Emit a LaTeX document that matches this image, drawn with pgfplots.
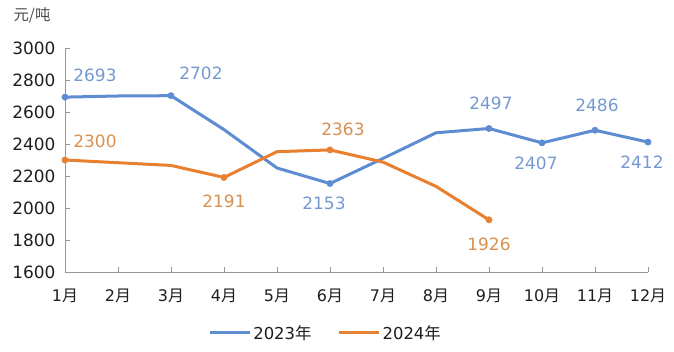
\documentclass[border=0pt]{standalone}
\usepackage{pgfplots}
\pgfplotsset{compat=1.18}
\usepackage{fontspec}
\setmainfont{DejaVu Sans}
\newfontfamily\cjk{Noto Sans CJK SC}
\definecolor{bl}{RGB}{94,140,210}
\definecolor{og}{RGB}{232,128,48}
\definecolor{bltxt}{RGB}{118,152,210}
\definecolor{ogtxt}{RGB}{218,144,78}
\definecolor{axc}{RGB}{150,150,150}
\definecolor{tickc}{RGB}{30,30,30}
\pgfplotstableread{
x y
1 2693
2 2700
3 2702
4 2490
5 2250
6 2153
7 2310
8 2470
9 2497
10 2407
11 2486
12 2412
}\dataA
\pgfplotstableread{
x y
1 2300
2 2283
3 2266
4 2191
5 2352
6 2363
7 2287
8 2135
9 1926
}\dataB
\pgfplotstableread{
x y
1 2693
3 2702
}\labAur
\pgfplotstableread{
x y
9 2497
11 2486
}\labAup
\pgfplotstableread{
x y
6 2153
10 2407
12 2412
}\labAdn
\pgfplotstableread{
x y
1 2300
}\labBur
\pgfplotstableread{
x y
6 2363
}\labBup
\pgfplotstableread{
x y
4 2191
9 1926
}\labBdn
\begin{document}
\begin{tikzpicture}
\useasboundingbox (-65bp,-80bp) rectangle (609bp,272bp);
\begin{axis}[
  name=ax,
  scale only axis,
  width=583bp, height=224bp,
  xmin=1, xmax=12, ymin=1600, ymax=3000,
  axis lines*=left,
  tick align=inside,
  axis line style={draw=axc, line width=0.8pt},
  tick style={draw=axc, line width=0.8pt},
  major tick length=5bp,
  xtick={1,...,12},
  xticklabels={1{\cjk 月},2{\cjk 月},3{\cjk 月},4{\cjk 月},5{\cjk 月},6{\cjk 月},7{\cjk 月},8{\cjk 月},9{\cjk 月},10{\cjk 月},11{\cjk 月},12{\cjk 月}},
  ytick={1600,1800,...,3000},
  /pgf/number format/assume math mode=true,
  /pgf/number format/1000 sep={},
  yticklabel style={font=\fontsize{17}{19}\selectfont, text=tickc, xshift=-6bp},
  xticklabel style={font=\fontsize{16}{18}\selectfont, text=tickc, yshift=-13bp},
  clip=false,
  legend columns=2,
  legend style={draw=none, at={(0.447,-0.272)}, anchor=center,
    font=\fontsize{16.5}{18}\selectfont, text=tickc,
    /tikz/every even column/.append style={column sep=24bp}},
  legend image code/.code={\draw[#1, line width=3bp] (0bp,0bp) -- (40bp,0bp);},
  nodes near coords,
  every node near coord/.append style={font=\fontsize{17}{19}\selectfont, /pgf/number format/1000 sep={}},
]
\addplot[bl, line width=3bp, no marks, nodes near coords=] table {\dataA};
\addlegendentry{2023{\cjk 年}}
\addplot[og, line width=3bp, no marks, nodes near coords=] table {\dataB};
\addlegendentry{2024{\cjk 年}}
\addplot[only marks, mark=*, mark size=3.2bp, color=bl, forget plot,
  every node near coord/.append style={text=bltxt, anchor=center, xshift=30bp, yshift=22bp}] table {\labAur};
\addplot[only marks, mark=*, mark size=3.2bp, color=bl, forget plot,
  every node near coord/.append style={text=bltxt, anchor=center, xshift=2bp, yshift=25bp}] table {\labAup};
\addplot[only marks, mark=*, mark size=3.2bp, color=bl, forget plot,
  every node near coord/.append style={text=bltxt, anchor=center, xshift=-6bp, yshift=-20bp}] table {\labAdn};
\addplot[only marks, mark=*, mark size=3.2bp, color=og, forget plot,
  every node near coord/.append style={text=ogtxt, anchor=center, xshift=30bp, yshift=19bp}] table {\labBur};
\addplot[only marks, mark=*, mark size=3.2bp, color=og, forget plot,
  every node near coord/.append style={text=ogtxt, anchor=center, xshift=13bp, yshift=21bp}] table {\labBup};
\addplot[only marks, mark=*, mark size=3.2bp, color=og, forget plot,
  every node near coord/.append style={text=ogtxt, anchor=center, xshift=0bp, yshift=-24bp}] table {\labBdn};
\end{axis}
\node[anchor=center, text=black!70, font=\cjk\fontsize{15.5}{17}\selectfont] at (-33bp,257bp) {元/吨};
\end{tikzpicture}
\end{document}
